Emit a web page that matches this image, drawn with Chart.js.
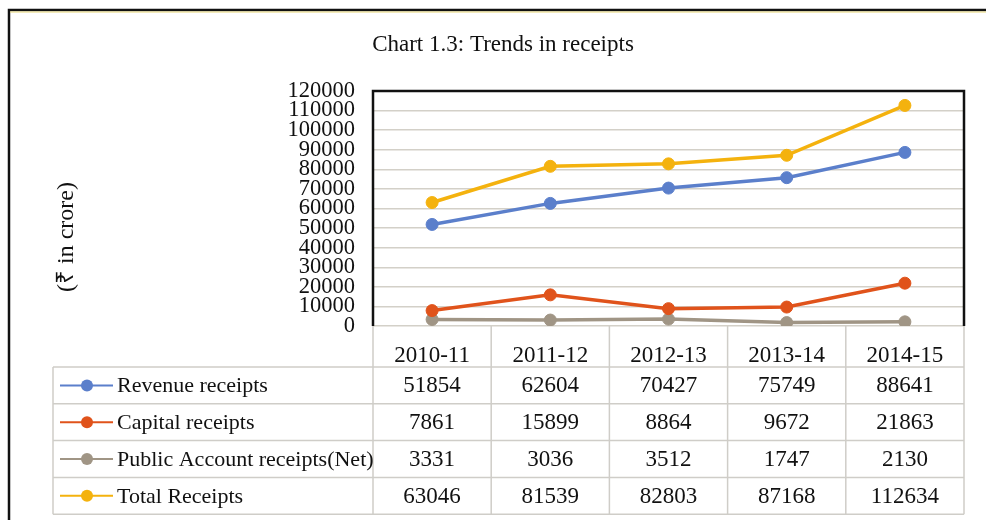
<!DOCTYPE html>
<html>
<head>
<meta charset="utf-8">
<script src="https://cdn.jsdelivr.net/npm/chart.js@4"></script>
<style>
  body { margin: 0; background: #fff; }
  canvas { display: block; }
</style>
</head>
<body>
<canvas id="graficoReceitas" width="986" height="520"></canvas>
<script>
// Dados do gráfico (₹ in crore)
const anos = ['2010-11', '2011-12', '2012-13', '2013-14', '2014-15'];
const receitasCorrentes = [51854, 62604, 70427, 75749, 88641];
const receitasCapital = [7861, 15899, 8864, 9672, 21863];
const receitasContaPublica = [3331, 3036, 3512, 1747, 2130];
const receitasTotais = [63046, 81539, 82803, 87168, 112634];
const nomesSeries = ['Revenue receipts', 'Capital receipts', 'Public Account receipts(Net)', 'Total Receipts'];
const coresSeries = ['#5b7fcb', '#e0531b', '#a09585', '#f4b20e'];
const ticksY = { min: 0, max: 120000, passo: 10000 };

const fonteSerif = '"Liberation Serif", "Times New Roman", serif';

function criarSerie(indice, valores) {
    return {
        label: nomesSeries[indice],
        data: valores,
        borderColor: coresSeries[indice],
        backgroundColor: coresSeries[indice],
        borderWidth: 3.5,
        pointRadius: 6,
        pointHoverRadius: 6,
        pointBorderWidth: 1,
        tension: 0
    };
}

// Plugin que desenha a tabela de dados, o título do eixo Y e as molduras
const pluginTabela = {
    id: 'tabelaDados',
    afterDraw(chart) {
        const ctx = chart.ctx;
        const area = chart.chartArea;
        const escalaX = chart.scales.x;
        const largura = (area.right - area.left) / anos.length;
        const esquerdaTabela = 53;
        const topoLinhas = 367;
        const alturaLinha = 36.8;

        ctx.save();

        // grade da tabela
        ctx.strokeStyle = '#cfcdc8';
        ctx.lineWidth = 1.5;
        ctx.beginPath();
        for (let i = 0; i <= anos.length; i++) {
            const x = area.left + i * largura;
            ctx.moveTo(x, area.bottom);
            ctx.lineTo(x, topoLinhas + alturaLinha * nomesSeries.length);
        }
        ctx.moveTo(esquerdaTabela, topoLinhas);
        ctx.lineTo(esquerdaTabela, topoLinhas + alturaLinha * nomesSeries.length);
        for (let j = 0; j <= nomesSeries.length; j++) {
            const y = topoLinhas + j * alturaLinha;
            ctx.moveTo(esquerdaTabela, y);
            ctx.lineTo(area.right, y);
        }
        ctx.stroke();

        // legenda e valores em cada linha
        chart.data.datasets.forEach((serie, j) => {
            const yCentro = topoLinhas + (j + 0.5) * alturaLinha;
            ctx.strokeStyle = serie.borderColor;
            ctx.lineWidth = 2;
            ctx.beginPath();
            ctx.moveTo(60, yCentro);
            ctx.lineTo(113, yCentro);
            ctx.stroke();
            ctx.fillStyle = serie.backgroundColor;
            ctx.beginPath();
            ctx.arc(87, yCentro, 6, 0, Math.PI * 2);
            ctx.fill();

            ctx.fillStyle = '#111';
            ctx.font = '22px ' + fonteSerif;
            ctx.textBaseline = 'middle';
            ctx.textAlign = 'left';
            ctx.fillText(serie.label, 117, yCentro + 1);

            ctx.font = '23px ' + fonteSerif;
            ctx.textAlign = 'center';
            serie.data.forEach((valor, i) => {
                ctx.fillText(String(valor), escalaX.getPixelForValue(i), yCentro + 1);
            });
        });

        // título do eixo Y
        ctx.save();
        ctx.translate(67, 237);
        ctx.rotate(-Math.PI / 2);
        ctx.fillStyle = '#111';
        ctx.font = '24px ' + fonteSerif;
        ctx.textAlign = 'center';
        ctx.textBaseline = 'middle';
        ctx.fillText('(₹ in crore)', 0, 0);
        ctx.restore();

        // moldura da área do gráfico
        ctx.strokeStyle = '#111';
        ctx.lineWidth = 2.5;
        ctx.beginPath();
        ctx.moveTo(area.left, area.bottom);
        ctx.lineTo(area.left, area.top);
        ctx.lineTo(area.right, area.top);
        ctx.lineTo(area.right, area.bottom);
        ctx.stroke();

        // moldura externa
        ctx.lineWidth = 2.5;
        ctx.beginPath();
        ctx.moveTo(9, chart.height);
        ctx.lineTo(9, 10);
        ctx.lineTo(chart.width, 10);
        ctx.stroke();
        ctx.strokeStyle = '#e8d878';
        ctx.lineWidth = 1;
        ctx.beginPath();
        ctx.moveTo(10, 12);
        ctx.lineTo(chart.width, 12);
        ctx.stroke();

        ctx.restore();
    }
};

const ctxReceitas = document.getElementById('graficoReceitas').getContext('2d');

const configuracaoReceitas = {
    type: 'line',
    data: {
        labels: anos,
        datasets: [
            criarSerie(0, receitasCorrentes),
            criarSerie(1, receitasCapital),
            criarSerie(2, receitasContaPublica),
            criarSerie(3, receitasTotais)
        ]
    },
    options: {
        responsive: false,
        animation: false,
        layout: {
            padding: { left: 42, right: 22, top: 0, bottom: 0 }
        },
        scales: {
            x: {
                offset: true,
                grid: { display: false },
                border: { display: false },
                ticks: {
                    color: '#111',
                    padding: 8,
                    font: { family: fonteSerif, size: 23 }
                },
                afterFit: (escala) => { escala.height = 194; }
            },
            y: {
                min: ticksY.min,
                max: ticksY.max,
                grid: {
                    color: '#d3d0c8',
                    lineWidth: 1.5,
                    drawTicks: false
                },
                border: { display: false },
                ticks: {
                    stepSize: ticksY.passo,
                    autoSkip: false,
                    color: '#111',
                    padding: 18,
                    font: { family: fonteSerif, size: 22.5, lineHeight: 1 },
                    callback: (valor) => String(valor)
                },
                afterFit: (escala) => { escala.width = 331; }
            }
        },
        plugins: {
            legend: { display: false },
            tooltip: { enabled: false },
            title: {
                display: true,
                text: 'Chart 1.3: Trends in receipts',
                color: '#111',
                font: { family: fonteSerif, size: 23, weight: 'normal' },
                padding: { top: 31.5, bottom: 31.9 }
            }
        }
    },
    plugins: [pluginTabela]
};

const graficoReceitas = new Chart(ctxReceitas, configuracaoReceitas);
</script>
</body>
</html>
